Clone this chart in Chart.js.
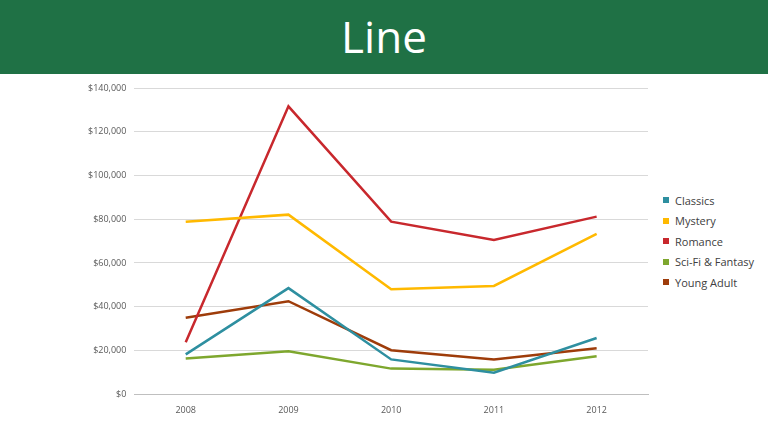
<!DOCTYPE html>
<html><head><meta charset="utf-8">
<script src="https://cdn.jsdelivr.net/npm/chart.js@4"></script>
<style>
body{margin:0;width:768px;height:432px;background:#fff;font-family:"Open Sans",sans-serif;overflow:hidden;position:relative}
#hdr{position:absolute;left:0;top:0;width:768px;height:74px;background:#1f7145;color:#fff;text-align:center;font-size:44px;line-height:72px}
#wrap{position:absolute;left:80px;top:74px;width:578px;height:345px}
#leg{position:absolute;left:663px;top:190px;font-size:11px;color:#404040}
#leg div{height:20.5px;display:flex;align-items:center}
#leg span{display:inline-block;width:6px;height:6px;margin-right:6px}
</style></head><body>
<div id="hdr">Line</div>
<div id="wrap"><canvas id="c"></canvas></div>
<div id="leg"></div>
<script>
const years=["2008","2009","2010","2011","2012"];
const seriesNames=["Classics","Mystery","Romance","Sci-Fi & Fantasy","Young Adult"];
const seriesColors=["#2e8fa0","#ffb900","#c8282d","#7ea72e","#9e3c0a"];
const classics=[18200,48500,15900,9800,25700];
const mystery=[78900,82100,48000,49500,73300];
const romance=[23800,131600,78900,70500,81200];
const scifi=[16300,19600,11700,11200,17300];
const youngAdult=[35000,42500,20100,15900,21000];
const values=[classics,mystery,romance,scifi,youngAdult];
const leg=document.getElementById('leg');
seriesNames.forEach((n,i)=>{const d=document.createElement('div');d.innerHTML='<span style="background:'+seriesColors[i]+'"></span>';d.appendChild(document.createTextNode(n));leg.appendChild(d);});
new Chart(document.getElementById('c'),{type:'line',
data:{labels:years,datasets:seriesNames.map((n,i)=>({label:n,data:values[i],borderColor:seriesColors[i],backgroundColor:seriesColors[i],borderWidth:2.5,pointRadius:0,tension:0}))},
options:{responsive:true,maintainAspectRatio:false,animation:false,
layout:{padding:{top:14,right:10,bottom:0,left:0}},
plugins:{legend:{display:false},tooltip:{enabled:false}},
scales:{x:{offset:true,grid:{display:false},border:{color:'#bfbfbf'},ticks:{color:'#595959',font:{size:9,family:'Open Sans'}}},
y:{min:0,max:140000,ticks:{stepSize:20000,color:'#595959',font:{size:9,family:'Open Sans'},padding:8,callback:v=>'$'+v.toLocaleString('en-US')},grid:{color:'#d9d9d9',drawTicks:false},border:{display:false}}}}});
</script></body></html>
